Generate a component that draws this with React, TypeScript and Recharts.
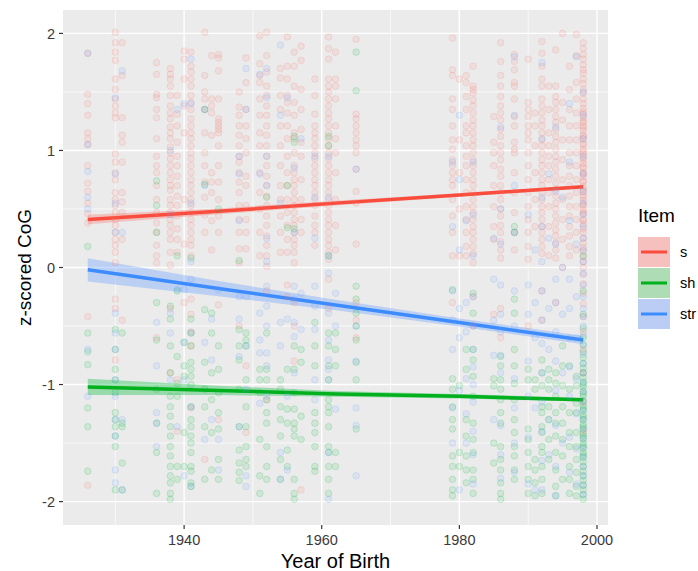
import { CartesianGrid, ComposedChart, Line, Area, Scatter, XAxis, YAxis } from "recharts";

// columns of points: [year of birth, z-scored CoG values]
const sPoints: [number, number[]][] = [
  [1926, [1.83, 1.48, 1.4, 1.3, 1.15, 1.1, 1.05, 0.87, 0.72, 0.65, 0.55, 0.46, 0.38, -0.42, -1.86]],
  [1930, [2.01, 1.92, 1.84, 1.77, 1.61, 1.52, 1.44, 1.38, 1.32, 1.28, 0.97, 0.9, 0.81, 0.75, 0.64, 0.58, 0.53, 0.47, 0.41, 0.36, 0.3, 0.24, 0.19, 0.13, 0.04, -0.27, -0.35, -0.79]],
  [1931, [1.92, 1.64, 1.28, 1.13, 1.07, 0.9, 0.64, 0.56, 0.47, 0.24, -0.45]],
  [1936, [1.75, 1.65, 1.48, 1.45, 1.35, 1.28, 1.1, 0.95, 0.87, 0.81, 0.7, 0.58, 0.47, 0.38, 0.3, 0.19, 0.1, 0.04, -0.6]],
  [1938, [1.7, 1.65, 1.61, 1.55, 1.47, 1.38, 1.32, 1.27, 1.2, 1.15, 1.1, 1.03, 0.98, 0.93, 0.87, 0.81, 0.75, 0.7, 0.66, 0.58, 0.53, 0.47, 0.41, 0.36, 0.3, 0.24, 0.13, 0.02, -0.35, -0.9]],
  [1939, [1.47, 1.31, 1.21, 1.07, 0.95, 0.87, 0.78, 0.7, 0.61, 0.53, 0.44, 0.33, 0.24, 0.13, -0.96, -1.4]],
  [1940, [1.85, 1.78, 1.61, 1.38, 1.15, 0.58, 0.2, -0.3]],
  [1941, [1.84, 1.72, 1.67, 1.61, 1.55, 1.47, 1.41, 1.35, 1.27, 1.21, 1.15, 1.1, 1.04, 0.98, 0.93, 0.87, 0.81, 0.75, 0.7, 0.64, 0.58, 0.53, 0.47, 0.41, 0.36, 0.3, 0.24, 0.19, 0.1, -0.27, -0.4, -0.55, -0.67, -1.2]],
  [1943, [2.01, 1.64, 1.5, 1.44, 1.35, 1.15, 0.98, 0.87, 0.73, 0.6, 0.45, 0.3, -1.64]],
  [1944, [1.81, 1.44, 1.38, 1.32, 1.13, 0.81, 0.73, 0.64, 0.4, 0.15]],
  [1945, [1.82, 1.79, 1.68, 1.44, 1.27, 1.24, 1.21, 1.18, 1.15, 1.04, 0.87, 0.73, 0.58, 0.44, 0.3, -0.32, -1.3]],
  [1948, [1.5, 1.37, 1.3, 1.21, 1.13, 1.04, 0.95, 0.9, 0.81, 0.73, 0.64, 0.53, 0.41, 0.3, 0.16, 0.04, -0.5]],
  [1949, [1.79, 1.58, 1.35, 1.21, 1.1, 0.98, 0.78, 0.7, 0.53, 0.41, 0.3, 0.16, -0.84, -1.41]],
  [1951, [1.98, 1.74, 1.64, 1.58, 1.44, 1.3, 1.15, 1.04, 0.81, 0.64, 0.5, 0.3, 0.1]],
  [1952, [2.01, 1.81, 1.67, 1.55, 1.47, 1.38, 1.3, 1.21, 1.13, 1.04, 0.95, 0.87, 0.78, 0.7, 0.61, 0.53, 0.44, 0.36, 0.27, 0.19, 0.1, 0.01, -0.2, -1.13]],
  [1954, [1.7, 1.62, 1.47, 1.35, 1.21, 1.04, 0.87, 0.7, 0.58, 0.44, 0.3, 0.13]],
  [1955, [1.97, 1.72, 1.61, 1.47, 1.41, 1.32, 1.21, 1.1, 0.95, 0.81, 0.7, 0.58, 0.47, 0.36, 0.24, 0.13, -0.15, -0.25]],
  [1956, [1.84, 1.72, 1.55, 1.41, 1.3, 1.15, 1.1, 0.98, 0.87, 0.81, 0.75, 0.7, 0.64, 0.58, 0.53, 0.47, 0.41, 0.36, 0.3, 0.24, 0.19, 0.13, 0.04, -0.3, -0.5, -0.8]],
  [1957, [1.89, 1.77, 1.52, 1.35, 1.18, 1.07, 0.95, 0.75, 0.58, 0.41, 0.3, -1.9]],
  [1959, [1.61, 1.47, 1.31, 1.21, 1.15, 1.1, 1.04, 0.98, 0.93, 0.87, 0.81, 0.75, 0.7, 0.64, 0.58, 0.53, 0.44, 0.36, 0.3, 0.19]],
  [1961, [1.97, 1.87, 1.78, 1.61, 1.55, 1.5, 1.44, 1.38, 1.32, 1.27, 1.21, 1.15, 1.1, 1.04, 0.98, 0.93, 0.87, 0.81, 0.75, 0.7, 0.64, 0.58, 0.53, 0.47, 0.41, 0.36, 0.3, 0.24, 0.19, 0.13, 0.07, -0.1, -0.35]],
  [1962, [1.84, 1.61, 1.55, 1.44, 1.21, 1.1, 0.98, 0.81, 0.58, 0.36, 0.15]],
  [1965, [1.95, 1.31, 1.27, 1.21, 1.15, 1.09, 1.04, 0.98, 0.84, 0.65, 0.55, 0.2, -0.3, -0.45, -0.6]],
  [1979, [1.96, 1.69, 1.64, 1.44, 1.35, 1.21, 1.09, 1.01, 0.92, 0.87, 0.81, 0.75, 0.7, 0.58, 0.44, 0.3, 0.1, -0.3]],
  [1980, [1.61, 1.09, 0.81, 0.5, 0.1]],
  [1981, [1.64, 1.58, 1.46, 1.35, 1.21, 1.15, 1.04, 0.95, 0.87, 0.75, 0.64, 0.52, 0.41, 0.3, 0.18, 0.1]],
  [1982, [1.72, 1.55, 1.52, 1.49, 1.43, 1.38, 1.32, 1.26, 1.21, 1.15, 1.09, 1.04, 0.98, 0.92, 0.87, 0.81, 0.75, 0.7, 0.64, 0.58, 0.52, 0.47, 0.41, 0.35, 0.3, 0.24, 0.18, 0.12, 0.04, -0.25, -0.5]],
  [1985, [1.29, 1.07, 0.98, 0.87, 0.7, 0.52, 0.35, 0.24, -0.4]],
  [1986, [1.92, 1.76, 1.64, 1.55, 1.46, 1.38, 1.32, 1.26, 1.18, 1.12, 1.04, 0.98, 0.92, 0.84, 0.78, 0.7, 0.64, 0.58, 0.5, 0.44, 0.36, 0.3, 0.22, 0.15, 0.08, -0.35, -0.6]],
  [1988, [1.82, 1.76, 1.69, 1.58, 1.55, 1.44, 1.29, 1.21, 1.07, 1.01, 0.98, 0.81, 0.64, 0.47, 0.3, 0.15]],
  [1990, [1.78, 1.41, 1.35, 1.29, 1.21, 1.15, 1.09, 0.98, 0.87, 0.75, 0.64, 0.52, 0.41, 0.3, 0.18, 0.07, -0.5]],
  [1991, [1.32, 1.21, 1.04, 0.81, 0.58, 0.35]],
  [1992, [1.93, 1.83, 1.72, 1.61, 1.55, 1.44, 1.38, 1.32, 1.26, 1.21, 1.15, 1.09, 1.04, 0.98, 0.92, 0.87, 0.81, 0.75, 0.7, 0.64, 0.58, 0.52, 0.47, 0.41, 0.35, 0.3, 0.24, 0.18, 0.12, -0.2, -0.45]],
  [1993, [1.55, 1.35, 1.15, 1.04, 0.95, 0.87, 0.75, 0.64, 0.52, 0.35, 0.1]],
  [1994, [1.86, 1.55, 1.46, 1.41, 1.35, 1.29, 1.24, 1.18, 1.12, 1.07, 1.01, 0.95, 0.9, 0.84, 0.78, 0.72, 0.67, 0.61, 0.55, 0.5, 0.44, 0.38, 0.32, 0.27, 0.21, 0.15, 0.08, -0.3]],
  [1995, [2.0, 1.41, 1.26, 1.09, 0.92, 0.75, 0.58, 0.41, 0.24, 0.0]],
  [1996, [1.72, 1.52, 1.35, 1.21, 1.09, 0.98, 0.87, 0.78, 0.7, 0.61, 0.52, 0.44, 0.35, 0.27, 0.18, 0.1]],
  [1997, [1.99, 1.81, 1.58, 1.44, 1.32, 1.21, 1.09, 0.98, 0.87, 0.75, 0.64, 0.52, 0.41, 0.3, 0.15]],
  [1998, [1.92, 1.87, 1.82, 1.78, 1.73, 1.69, 1.66, 1.61, 1.57, 1.52, 1.49, 1.44, 1.4, 1.36, 1.33, 1.28, 1.25, 1.21, 1.17, 1.13, 1.1, 1.05, 1.01, 0.97, 0.94, 0.89, 0.85, 0.81, 0.78, 0.73, 0.69, 0.65, 0.62, 0.57, 0.53, 0.49, 0.46, 0.41, 0.37, 0.33, 0.3, 0.25, 0.21, 0.17, 0.14, 0.09, 0.05, 0.0, -0.06, -0.14, -0.22, -0.31, -0.42, -0.55, -0.7, -0.9, -1.15, -1.4,
    1.31, 1.24, 1.19, 1.12, 1.06, 0.99, 0.92, 0.86, 0.8, 0.74, 0.67, 0.6, 0.54, 0.47, 0.4]],
];

const shPoints: [number, number[]][] = [
  [1926, [0.18, -0.56, -0.72, -0.83, -1.2, -1.36, -1.74]],
  [1930, [-0.53, -0.7, -0.87, -0.96, -1.07, -1.24, -1.3, -1.36, -1.44, -1.53, -1.9]],
  [1931, [-0.56, -1.33, -1.36, -1.67, -1.9]],
  [1936, [0.74, 0.53, 0.3, -0.3, -0.62, -1.04, -1.33, -1.58, -1.93]],
  [1938, [-0.33, -0.44, -0.67, -0.9, -1.1, -1.19, -1.27, -1.36, -1.44, -1.53, -1.61, -1.7, -1.78, -1.84, -1.93, -1.98]],
  [1939, [0.1, -0.2, -0.76, -0.99, -1.1, -1.7, -1.81]],
  [1940, [-0.64, -0.84, -0.93, -1.41, -1.7]],
  [1941, [0.08, -0.44, -0.56, -0.67, -0.81, -0.87, -0.93, -1.0, -1.19, -1.3, -1.36, -1.44, -1.5, -1.58, -1.7, -1.74, -1.84, -1.87]],
  [1943, [1.35, 0.71, -0.36, -0.81, -1.04, -1.19, -1.36, -1.81]],
  [1944, [-0.39, -0.56, -0.9, -1.13, -1.41, -1.73]],
  [1945, [0.5, -0.67, -0.87, -1.07, -1.24, -1.38, -1.64, -1.81]],
  [1948, [0.06, -0.53, -0.67, -0.79, -1.04, -1.36, -1.56, -1.67, -1.75, -1.82]],
  [1949, [-0.56, -0.62, -0.67, -0.96, -1.19, -1.36, -1.53, -1.64, -1.7]],
  [1951, [-0.87, -0.96, -1.07, -1.47, -1.78, -1.93]],
  [1952, [0.6, -0.56, -0.87, -0.96, -1.13, -1.24, -1.33, -1.53, -1.7, -1.81]],
  [1954, [-0.96, -1.04, -1.19, -1.3, -1.44, -1.64, -1.81]],
  [1955, [0.7, 0.34, -0.87, -1.21, -1.33, -1.56, -1.7]],
  [1956, [1.12, 1.07, 0.33, -0.67, -0.87, -1.07, -1.21, -1.33, -1.38, -1.44, -1.81, -1.93, -1.98]],
  [1957, [-0.7, -0.81, -1.27, -1.47]],
  [1959, [-0.47, -0.67, -0.84, -1.24, -1.33, -1.41, -1.53, -1.7, -1.74]],
  [1961, [1.12, 1.04, 0.1, -0.56, -0.67, -0.84, -0.96, -1.13, -1.19, -1.24, -1.36, -1.53, -1.58, -1.7, -1.81, -1.93]],
  [1962, [-0.56, -0.7, -0.84, -1.58, -1.7]],
  [1965, [1.84, 1.51, -0.16, -0.27, -0.39, -0.5, -0.62, -0.81, -0.96, -1.38]],
  [1979, [-0.19, -0.95, -1.04, -1.19, -1.3, -1.38, -1.61, -1.7, -1.81, -1.9, -1.95]],
  [1980, [-1.01, -1.58, -1.7]],
  [1981, [-0.7, -0.87, -1.3, -1.44, -1.61, -1.73, -1.84]],
  [1982, [-0.22, -0.39, -0.7, -0.79, -0.93, -1.1, -1.33, -1.47, -1.58, -1.73, -1.81, -1.93]],
  [1985, [-0.95, -1.01, -1.5, -1.67]],
  [1986, [-0.76, -0.84, -0.96, -1.04, -1.13, -1.24, -1.33, -1.53, -1.64, -1.73, -1.84, -1.93, -1.98]],
  [1988, [0.35, 0.3, -0.27, -0.39, -0.7, -0.84, -0.99, -1.13, -1.3, -1.41, -1.53, -1.61, -1.73, -1.81]],
  [1990, [-0.87, -0.96, -1.38, -1.47, -1.58, -1.7, -1.81, -1.93]],
  [1991, [-0.96, -1.04, -1.64, -1.73, -1.84, -1.95]],
  [1992, [-0.79, -0.9, -1.01, -1.19, -1.24, -1.36, -1.41, -1.53, -1.58, -1.7, -1.81, -1.93]],
  [1993, [-0.87, -0.96, -1.04, -1.19, -1.3, -1.47, -1.64]],
  [1994, [-0.9, -0.99, -1.1, -1.24, -1.33, -1.44, -1.58, -1.73, -1.87, -1.95]],
  [1995, [-0.67, -0.84, -1.01, -1.19, -1.33, -1.47, -1.61, -1.81]],
  [1996, [-0.84, -1.04, -1.24, -1.41, -1.53, -1.7, -1.81, -1.93]],
  [1997, [-0.93, -1.01, -1.16, -1.24, -1.41, -1.53, -1.64, -1.75, -1.87, -1.95]],
  [1998, [0.1, -0.2, -0.4, -0.52, -0.6, -0.66, -0.72, -0.77, -0.82, -0.86, -0.9, -0.94, -0.98, -1.0, -1.02, -1.06, -1.08, -1.1, -1.14, -1.18, -1.2, -1.22, -1.26, -1.28, -1.3, -1.34, -1.36, -1.38, -1.42, -1.44, -1.46, -1.5, -1.52, -1.54, -1.58, -1.6, -1.62, -1.66, -1.7, -1.74, -1.78, -1.82, -1.86, -1.9, -1.94, -1.98]],
];

const strPoints: [number, number[]][] = [
  [1926, [1.83, 1.05, 0.82, 0.6, 0.5, -0.7, -1.1]],
  [1930, [1.45, 0.8, 0.55, 0.3, -0.39, -0.56, -0.7, -0.96, -1.1, -1.3, -1.44, -1.73, -1.84]],
  [1931, [1.68, 0.3, -1.3, -1.9]],
  [1936, [-0.47, -0.84, -1.24, -1.33, -1.53]],
  [1938, [1.0, 0.45, -0.39, -0.56, -0.96]],
  [1939, [1.35, -0.19, -1.36]],
  [1940, [1.4, -0.19, -0.64, -0.96, -1.78]],
  [1941, [1.78, 1.4, 0.55, 0.05, -0.1, -0.56, -1.19, -1.87]],
  [1943, [1.35, 0.7, -0.64, -1.47]],
  [1944, [-0.44, -0.79, -1.3]],
  [1945, [-0.19, -1.47, -1.73]],
  [1948, [0.95, 0.8, 0.4, -0.25, -0.44, -0.76, -1.36]],
  [1949, [1.7, 1.35, -0.25, -0.67, -1.04, -1.78, -1.87]],
  [1951, [1.65, 0.8, -0.39, -0.62, -0.73, -1.16]],
  [1952, [1.7, 1.45, 0.95, 0.7, 0.25, 0.05, -0.16, -0.33, -0.5, -0.73, -0.84, -1.1]],
  [1954, [1.9, 1.3, 0.55, -0.47, -0.67, -1.58, -1.81]],
  [1955, [1.45, -0.44, -1.1, -1.73]],
  [1956, [0.85, 0.3, -0.16, -0.27, -0.47, -0.59, -0.9]],
  [1957, [1.1, -0.22, -0.53]],
  [1959, [0.95, 0.6, 0.25, -0.16, -0.33, -0.53, -0.96, -1.13]],
  [1961, [0.95, 0.6, 0.1, -0.05, -0.39, -0.62, -0.79, -0.87, -0.96, -1.58, -1.98]],
  [1962, [-0.22, -0.5, -1.21]],
  [1965, [0.84, -0.5, -0.8, -1.2, -1.35, -1.78]],
  [1979, [0.9, 0.35, -0.2, -0.45, -0.7, -1.2, -1.5]],
  [1980, [1.3, 0.75, 0.15, -0.35, -0.6, -1.05, -1.9]],
  [1981, [0.4, -0.3, -0.55, -0.95, -1.25, -1.5]],
  [1982, [0.9, 0.45, 0.1, -0.25, -0.5, -0.7, -0.85, -1.0, -1.15, -1.4, -1.6, -1.85]],
  [1985, [0.25, -0.1, -0.45, -0.75, -1.3]],
  [1986, [1.2, 0.5, 0.2, -0.15, -0.4, -0.55, -0.75, -0.9, -1.35, -1.6, -1.8]],
  [1988, [1.8, 1.3, 0.7, 0.3, -0.2, -0.5, -0.95, -1.2, -1.5, -1.75]],
  [1990, [0.45, -0.15, -0.4, -0.8, -1.1, -1.45, -1.85]],
  [1991, [0.15, -0.3, -0.6, -1.2, -1.9]],
  [1992, [1.75, 1.1, 0.6, 0.35, 0.05, -0.2, -0.45, -0.65, -0.9, -1.15, -1.4, -1.65, -1.9]],
  [1993, [0.8, 0.25, -0.35, -0.7, -1.3, -1.6]],
  [1994, [1.2, 0.65, 0.2, -0.1, -0.3, -0.55, -0.8, -1.05, -1.35, -1.7, -1.95]],
  [1995, [0.6, 0.0, -0.4, -0.9, -1.5]],
  [1996, [1.4, 0.9, 0.4, -0.1, -0.35, -0.6, -0.85, -1.1, -1.45, -1.75]],
  [1997, [1.8, 0.2, -0.25, -0.6, -0.95, -1.25, -1.55, -1.85]],
  [1998, [1.5, 1.3, 1.1, 0.95, 0.8, 0.65, 0.55, 0.45, 0.35, 0.25, 0.15, 0.05, -0.05, -0.15, -0.25, -0.35, -0.42, -0.5, -0.58, -0.66, -0.74, -0.82, -0.9, -0.98, -1.06, -1.14, -1.22, -1.3, -1.38, -1.46, -1.54, -1.62, -1.7, -1.78, -1.86, -1.94]],
];

// linear fits with confidence band
const fitYears = [1926, 1945, 1962, 1980, 1998];
const sFit = [0.41, 0.48, 0.55, 0.62, 0.69];
const sLow = [0.37, 0.455, 0.53, 0.605, 0.675];
const sHigh = [0.45, 0.505, 0.57, 0.635, 0.705];
const shFit = [-1.02, -1.05, -1.08, -1.1, -1.13];
const shLow = [-1.09, -1.09, -1.105, -1.12, -1.145];
const shHigh = [-0.95, -1.01, -1.055, -1.08, -1.115];
const strFit = [-0.02, -0.18, -0.32, -0.47, -0.62];
const strLow = [-0.12, -0.245, -0.365, -0.505, -0.655];
const strHigh = [0.08, -0.115, -0.275, -0.435, -0.585];

const xTicks = [1940, 1960, 1980, 2000];
const yTicks = [-2, -1, 0, 1, 2];
const xMinor = [1930, 1950, 1970, 1990];
const yMinor = [-1.5, -0.5, 0.5, 1.5];

const items = [
  { name: "s", point: "#F8766D", line: "#F94C3C", key: "#F5C0BD" },
  { name: "sh", point: "#00BA38", line: "#00B01C", key: "#AEDCB5" },
  { name: "str", point: "#619CFF", line: "#3D8CFF", key: "#BBCDF5" },
];

const font = "'Liberation Sans', Arial, Helvetica, sans-serif";

const flat = (cols: [number, number[]][]) => cols.flatMap(([year, vals]) => vals.map((y) => ({ year, y })));

const fitRows = fitYears.map((year, i) => ({
  year,
  sFit: sFit[i],
  sBand: [sLow[i], sHigh[i]],
  shFit: shFit[i],
  shBand: [shLow[i], shHigh[i]],
  strFit: strFit[i],
  strBand: [strLow[i], strHigh[i]],
}));

const dot = (color: string) => (props: any) => (
  <circle cx={props.cx} cy={props.cy} r={3.3} fill={color} fillOpacity={0.11} stroke={color} strokeOpacity={0.2} strokeWidth={0.9} />
);

export default function App() {
  const series = [flat(sPoints), flat(shPoints), flat(strPoints)];
  return (
    <div style={{ position: "absolute", left: 0, top: 0, width: 698, height: 571, background: "#fff", fontFamily: font }}>
      <ComposedChart width={698} height={571} data={fitRows} margin={{ top: 10, right: 90, bottom: 0, left: 0 }}>
        <CartesianGrid fill="#EBEBEB" stroke="#fff" strokeWidth={0.7} horizontalValues={yMinor} verticalValues={xMinor} />
        <CartesianGrid stroke="#fff" strokeWidth={1.4} horizontalValues={yTicks} verticalValues={xTicks} />
        <XAxis
          type="number"
          dataKey="year"
          domain={[1922.4, 2001.6]}
          allowDataOverflow
          ticks={xTicks}
          height={46}
          axisLine={false}
          tickSize={4}
          tickMargin={6}
          tickLine={{ stroke: "#333", strokeWidth: 1.2 }}
          tick={{ fill: "#3a3a3a", fontSize: 14.5, fontFamily: font }}
          label={{ value: "Year of Birth", position: "insideBottom", offset: 3, fill: "#000", fontSize: 20, fontFamily: font }}
        />
        <YAxis
          type="number"
          domain={[-2.2, 2.2]}
          allowDataOverflow
          ticks={yTicks}
          width={63}
          axisLine={false}
          tickSize={4}
          tickMargin={4}
          tickLine={{ stroke: "#333", strokeWidth: 1.2 }}
          tick={{ fill: "#3a3a3a", fontSize: 14.5, fontFamily: font }}
          label={{ value: "z-scored CoG", angle: -90, position: "insideLeft", offset: 24, fill: "#000", fontSize: 19, fontFamily: font, style: { textAnchor: "middle" } }}
        />
        {series.map((pts, i) => (
          <Scatter key={items[i].name} data={pts} dataKey="y" shape={dot(items[i].point)} isAnimationActive={false} />
        ))}
        <Area dataKey="sBand" type="linear" stroke="none" fill={items[0].point} fillOpacity={0.35} isAnimationActive={false} />
        <Area dataKey="shBand" type="linear" stroke="none" fill={items[1].point} fillOpacity={0.35} isAnimationActive={false} />
        <Area dataKey="strBand" type="linear" stroke="none" fill={items[2].point} fillOpacity={0.35} isAnimationActive={false} />
        <Line dataKey="sFit" type="linear" stroke={items[0].line} strokeWidth={3.5} dot={false} isAnimationActive={false} />
        <Line dataKey="shFit" type="linear" stroke={items[1].line} strokeWidth={3.5} dot={false} isAnimationActive={false} />
        <Line dataKey="strFit" type="linear" stroke={items[2].line} strokeWidth={3.5} dot={false} isAnimationActive={false} />
      </ComposedChart>
      <div style={{ position: "absolute", left: 638, top: 205 }}>
        <div style={{ fontSize: 19, color: "#000", lineHeight: "22px", marginBottom: 9 }}>Item</div>
        {items.map((it) => (
          <div key={it.name} style={{ display: "flex", alignItems: "center", height: 31 }}>
            <svg width={32} height={30} style={{ display: "block" }}>
              <rect x={0} y={0} width={32} height={30} fill={it.key} />
              <line x1={3} x2={29} y1={15} y2={15} stroke={it.line} strokeWidth={3} />
            </svg>
            <span style={{ marginLeft: 10, fontSize: 14.5, color: "#000" }}>{it.name}</span>
          </div>
        ))}
      </div>
    </div>
  );
}
